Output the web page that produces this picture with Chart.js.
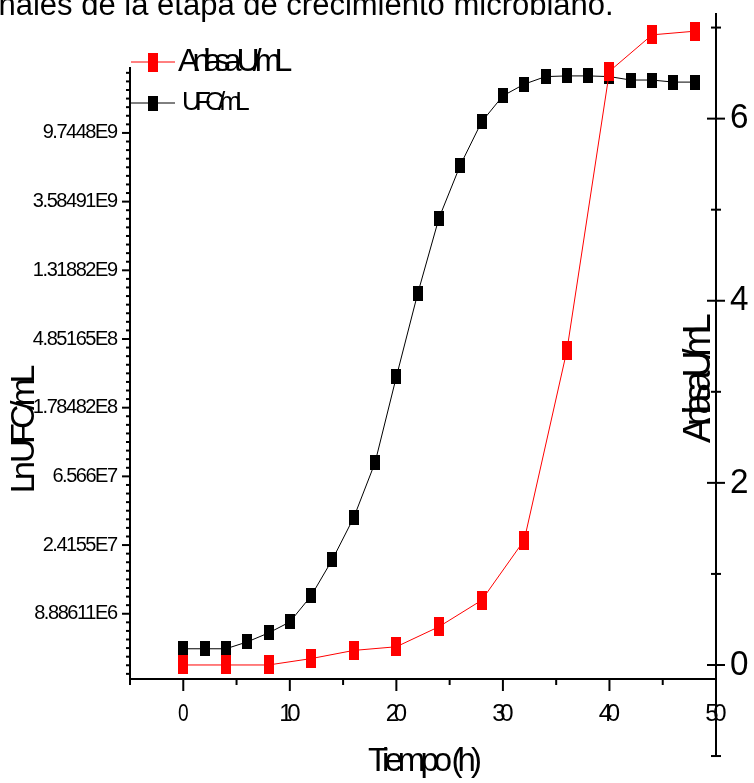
<!DOCTYPE html>
<html>
<head>
<meta charset="utf-8">
<script src="https://cdn.jsdelivr.net/npm/chart.js@4/dist/chart.umd.min.js"></script>
<style>
  html, body { margin: 0; padding: 0; background: #fff; overflow: hidden; }
  #wrap { position: relative; width: 754px; height: 783px; overflow: hidden; }
  #chart { position: absolute; left: 0; top: 0; }
  #caption {
    position: absolute; left: -17px; top: -13px; line-height: 31px;
    font: 31px "Liberation Sans", Arial, sans-serif; white-space: nowrap; color: #000;
  }
</style>
</head>
<body>
<div id="wrap">
  <canvas id="chart" width="754" height="783"></canvas>
  <div id="caption">finales de la etapa de crecimiento microbiano.</div>
</div>
<script>
// -----------------------------
// DATA
// -----------------------------
const ufcHours = [0, 2, 4, 6, 8, 10, 12, 14, 16, 18, 20, 22, 24, 26, 28, 30, 32, 34, 36, 38, 40, 42, 44, 46, 48];
const lnUfc = [15.49, 15.49, 15.49, 15.59, 15.72, 15.88, 16.26, 16.79, 17.40, 18.20, 19.45, 20.66, 21.76,
               22.53, 23.16, 23.54, 23.71, 23.82, 23.83, 23.83, 23.82, 23.77, 23.77, 23.74, 23.74];

const anilasaHours = [0, 4, 8, 12, 16, 20, 24, 28, 32, 36, 40, 44, 48];
const anilasa = [0, 0, 0, 0.07, 0.16, 0.20, 0.42, 0.71, 1.37, 3.45, 6.52, 6.92, 6.96];

const xMajorTicks = [0, 10, 20, 30, 40, 50];
const xMinorTicks = [-5, 5, 15, 25, 35, 45];
const leftTickValues = [16, 17, 18, 19, 20, 21, 22, 23];
const leftTickLabels = ["8.88611E6", "2.4155E7", "6.566E7", "1.78482E8", "4.85165E8", "1.31882E9", "3.58491E9", "9.7448E9"];
const leftAxisRange = [15.05, 23.96];
const rightMajorTicks = [0, 2, 4, 6];
const rightMinorTicks = [-1, 1, 3, 5, 7];
const rightAxisRange = [-1, 7.16];

const FONT = "'Liberation Sans', Arial, sans-serif";

// -----------------------------
// HELPERS
// -----------------------------
function markerImage(color, w, h) {
    const c = document.createElement("canvas");
    c.width = w;
    c.height = h;
    const g = c.getContext("2d");
    g.fillStyle = color;
    g.fillRect(0, 0, w, h);
    return c;
}

// condensed, overlapping text like the Origin export
function squeezeText(ctx, text, x, y, size, squeeze, align, rotated) {
    ctx.save();
    ctx.translate(x, y);
    if (rotated) ctx.rotate(-Math.PI / 2);
    ctx.font = `${size}px ${FONT}`;
    ctx.fillStyle = "#000";
    ctx.textBaseline = "middle";
    ctx.textAlign = "left";

    const natural = ctx.measureText(text).width;
    const target = natural * squeeze;
    let x0 = 0;
    if (align === "right") x0 = -target;
    if (align === "center") x0 = -target / 2;

    if ("letterSpacing" in ctx && text.length > 1) {
        ctx.letterSpacing = `${(target - natural) / (text.length - 1)}px`;
        ctx.fillText(text, x0, 0);
    } else {
        ctx.translate(x0, 0);
        ctx.scale(squeeze, 1);
        ctx.fillText(text, 0, 0);
    }
    ctx.restore();
}

const redMarker = markerImage("#ff0000", 10, 19);
const blackMarker = markerImage("#000000", 10, 15);

// -----------------------------
// AXES, LABELS, LEGEND
// -----------------------------
const originAxes = {
    id: "originAxes",
    beforeDatasetsDraw(chart) {
        const { ctx, chartArea: a, scales } = chart;
        const { x, y, y2 } = scales;
        const left = a.left, right = a.right;
        const bottom = y.getPixelForValue(leftAxisRange[0]);
        const top = y.getPixelForValue(leftAxisRange[1]);

        ctx.save();
        ctx.strokeStyle = "#000";
        ctx.lineWidth = 2;
        const line = (x1, y1, x2, y2_) => {
            ctx.beginPath();
            ctx.moveTo(x1, y1);
            ctx.lineTo(x2, y2_);
            ctx.stroke();
        };

        // left axis (ln scale, 8 subdivisions)
        line(left, top, left, bottom);
        for (let k = Math.ceil(leftAxisRange[0] * 8); k <= Math.floor(leftAxisRange[1] * 8); k++) {
            const py = y.getPixelForValue(k / 8);
            line(left - (k % 8 === 0 ? 8 : 4), py, left, py);
        }

        // bottom axis
        line(left, bottom, right, bottom);
        xMajorTicks.forEach(v => {
            const px = x.getPixelForValue(v);
            line(px, bottom, px, bottom + 12);
        });
        xMinorTicks.forEach(v => {
            const px = x.getPixelForValue(v);
            line(px, bottom, px, bottom + 6);
        });

        // right axis
        line(right, y2.getPixelForValue(rightAxisRange[0]), right, y2.getPixelForValue(rightAxisRange[1]));
        rightMajorTicks.forEach(v => {
            const py = y2.getPixelForValue(v);
            line(right - 9, py, right + 9, py);
        });
        rightMinorTicks.forEach(v => {
            const py = y2.getPixelForValue(v);
            line(right - 5, py, right + 5, py);
        });
        ctx.restore();
    },

    afterDraw(chart) {
        const { ctx, chartArea: a, scales } = chart;
        const { x, y, y2 } = scales;
        const bottom = y.getPixelForValue(leftAxisRange[0]);

        leftTickValues.forEach((v, i) => {
            squeezeText(ctx, leftTickLabels[i], a.left - 12, y.getPixelForValue(v), 20, 0.88, "right");
        });
        xMajorTicks.forEach(v => {
            squeezeText(ctx, String(v), x.getPixelForValue(v), bottom + 35, 24, 0.8, "center");
        });
        rightMajorTicks.forEach(v => {
            squeezeText(ctx, String(v), a.right + 14, y2.getPixelForValue(v), 35, 0.95, "left");
        });

        // axis titles
        squeezeText(ctx, "Tiempo (h)", 425, 762, 33, 0.72, "center");
        squeezeText(ctx, "Ln UFC/mL", 25, 429, 34, 0.74, "center", true);
        squeezeText(ctx, "Anilasa U/mL", 700, 378, 38, 0.575, "center", true);

        // legend
        const entries = [
            { ds: chart.data.datasets[0], y: 62, size: 32, squeeze: 0.6, textX: 178 },
            { ds: chart.data.datasets[1], y: 103, size: 26, squeeze: 0.7, textX: 182 }
        ];
        entries.forEach(e => {
            ctx.save();
            ctx.strokeStyle = e.ds.borderColor;
            ctx.lineWidth = 1;
            ctx.beginPath();
            ctx.moveTo(131, e.y);
            ctx.lineTo(175, e.y);
            ctx.stroke();
            const img = e.ds.pointStyle;
            ctx.drawImage(img, 153 - img.width / 2, e.y - img.height / 2);
            ctx.restore();
            squeezeText(ctx, e.ds.label, e.textX, e.y, e.size, e.squeeze, "left");
        });
    }
};

// -----------------------------
// CHART
// -----------------------------
function init() {
    const ctx = document.getElementById("chart").getContext("2d");

    new Chart(ctx, {
        type: "line",
        data: {
            datasets: [
                {
                    label: "Anilasa U/mL",
                    data: anilasaHours.map((h, i) => ({ x: h, y: anilasa[i] })),
                    yAxisID: "y2",
                    borderColor: "#ff0000",
                    borderWidth: 1,
                    pointStyle: redMarker,
                    pointRadius: 5,
                    tension: 0,
                    clip: false
                },
                {
                    label: "UFC/mL",
                    data: ufcHours.map((h, i) => ({ x: h, y: lnUfc[i] })),
                    yAxisID: "y",
                    borderColor: "#000000",
                    borderWidth: 1,
                    pointStyle: blackMarker,
                    pointRadius: 5,
                    tension: 0,
                    clip: false
                }
            ]
        },
        options: {
            responsive: false,
            animation: false,
            devicePixelRatio: 1,
            events: [],
            // plot box spans the long right axis; the left axis is drawn shorter
            layout: { padding: { left: 130, right: 38, top: 13, bottom: 104 } },
            plugins: { legend: { display: false }, tooltip: { enabled: false } },
            scales: {
                x: { type: "linear", min: -5, max: 50, display: false },
                y: { type: "linear", min: 15.05, max: 24.746, display: false },
                y2: { type: "linear", min: -0.154, max: 7.16, display: false }
            }
        },
        plugins: [originAxes]
    });
}

document.addEventListener("DOMContentLoaded", init);
</script>
</body>
</html>
